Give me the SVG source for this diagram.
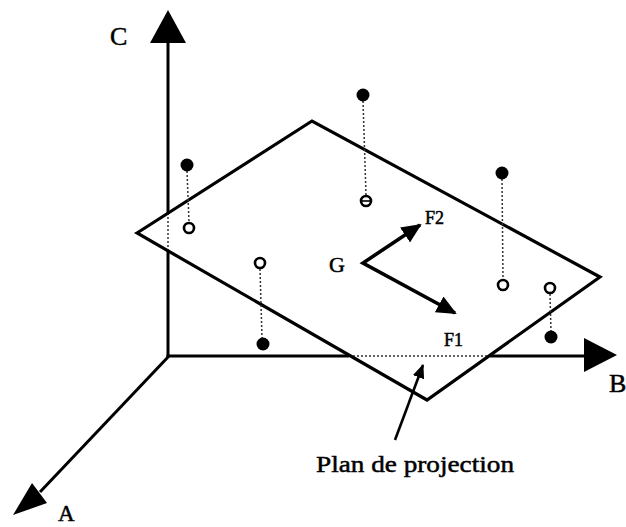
<svg xmlns="http://www.w3.org/2000/svg" width="626" height="527" viewBox="0 0 626 527">
<style>
.ax{stroke:#000;stroke-width:3;fill:none}
.dot{stroke:#333;stroke-width:1.5;stroke-dasharray:2 2;fill:none}
.plane{stroke:#000;stroke-width:3.2;fill:none;stroke-linejoin:miter}
.full{fill:#000}
.open{fill:#fff;stroke:#000;stroke-width:2.6}
.force{stroke:#000;stroke-width:3.6;fill:none}
.lbl{font-family:"Liberation Serif","Times New Roman",serif;fill:#000;stroke:#000;stroke-width:0.5}
</style>
<defs>
<marker id="fh" viewBox="0 0 20 18" refX="18" refY="9" markerWidth="20" markerHeight="18" markerUnits="userSpaceOnUse" orient="auto-start-reverse">
<path d="M0,0 L20,9 L0,18 z" fill="#000"/>
</marker>
<marker id="ph" viewBox="0 0 14 12" refX="13" refY="6" markerWidth="14" markerHeight="12" markerUnits="userSpaceOnUse" orient="auto">
<path d="M0,0 L14,6 L0,12 z" fill="#000"/>
</marker>
</defs>
<g id="axes">
<line class="ax" x1="168" y1="40" x2="168" y2="213"/>
<line class="dot" x1="168" y1="213" x2="168" y2="251"/>
<line class="ax" x1="168" y1="251" x2="168" y2="357"/>
<line class="ax" x1="166.5" y1="356" x2="349" y2="356"/>
<line class="dot" x1="349" y1="356" x2="490" y2="356"/>
<line class="ax" x1="490" y1="356" x2="588" y2="356"/>
<line class="ax" x1="169" y1="356" x2="40" y2="492"/>
<polygon points="168,10 150,43 186,43" fill="#000"/>
<polygon points="617,355 584,338 584,372" fill="#000"/>
<polygon points="13,515 32,483 47,503" fill="#000"/>
</g>
<g id="label-C"><text class="lbl" x="110" y="45" font-size="26">C</text></g>
<g id="label-B"><text class="lbl" x="609" y="392" font-size="26">B</text></g>
<g id="label-A"><text class="lbl" x="58" y="521" font-size="23">A</text></g>
<g id="plane"><polygon class="plane" points="137,233 312,121 600,277 427,400"/></g>
<g id="connectors">
<line class="dot" x1="187" y1="171" x2="189" y2="222"/>
<line class="dot" x1="363" y1="101" x2="366" y2="195"/>
<line class="dot" x1="502" y1="179" x2="503" y2="279"/>
<line class="dot" x1="550" y1="294" x2="551" y2="331"/>
<line class="dot" x1="260" y1="269" x2="262" y2="338"/>
<polyline class="force" points="420,225 363,263 455,313" marker-start="url(#fh)" marker-end="url(#fh)"/>
<line x1="395" y1="440" x2="423" y2="365" stroke="#000" stroke-width="2.6" marker-end="url(#ph)"/>
</g>
<g id="point1"><circle class="full" cx="187" cy="165" r="6.5"/><circle class="open" cx="189" cy="228" r="5"/></g>
<g id="point2"><circle class="full" cx="363" cy="95" r="6.5"/><circle class="open" cx="366" cy="201" r="5"/><line x1="362" y1="201" x2="370" y2="201" stroke="#000" stroke-width="1.6"/></g>
<g id="point3"><circle class="full" cx="502" cy="173" r="6.5"/><circle class="open" cx="503" cy="285" r="5"/></g>
<g id="point4"><circle class="open" cx="550" cy="288" r="5"/><circle class="full" cx="551" cy="337" r="6.5"/></g>
<g id="point5"><circle class="open" cx="260" cy="263" r="5"/><circle class="full" cx="263" cy="344" r="6.5"/></g>
<g id="label-G"><text class="lbl" x="329" y="272" font-size="22">G</text></g>
<g id="label-F2"><text class="lbl" x="425" y="224" font-size="18">F2</text></g>
<g id="label-F1"><text class="lbl" x="444" y="346" font-size="18">F1</text></g>
<g id="label-plan"><text class="lbl" x="316" y="472" font-size="24" textLength="198" lengthAdjust="spacingAndGlyphs">Plan de projection</text></g>
</svg>
